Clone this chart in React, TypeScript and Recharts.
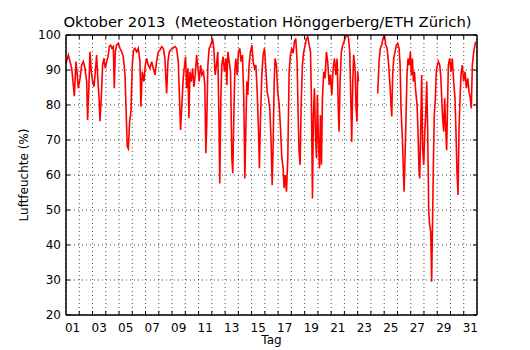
import React from "react";
import { LineChart, Line, XAxis, YAxis, CartesianGrid, Label } from "recharts";

// Time in days since 1 Oct 2013 00:00
const days: number[] = [
  0, 0.18, 0.43, 0.55, 0.63, 0.75, 0.85, 0.93, 1.06, 1.18, 1.31, 1.43, 1.56, 1.63, 1.73, 1.81, 1.91,
  2.01, 2.11, 2.19, 2.31, 2.41, 2.51, 2.56, 2.66, 2.76, 2.86, 2.96, 3.07, 3.17, 3.27, 3.37, 3.47, 3.57,
  3.64, 3.72, 3.82, 3.94, 4.07, 4.2, 4.32, 4.45, 4.52, 4.62, 4.7, 4.8, 4.9, 5.0, 5.1, 5.2, 5.33, 5.45,
  5.58, 5.65, 5.75, 5.88, 5.98, 6.08, 6.21, 6.33, 6.46, 6.58, 6.71, 6.83, 6.96, 7.09, 7.21, 7.34, 7.46,
  7.59, 7.69, 7.79, 7.89, 8.04, 8.22, 8.34, 8.47, 8.57, 8.64, 8.74, 8.84, 8.94, 9.02, 9.1, 9.2, 9.27,
  9.35, 9.45, 9.55, 9.65, 9.75, 9.85, 9.95, 10.05, 10.15, 10.25,
  10.37, 10.47, 10.55, 10.62, 10.7, 10.8, 10.92, 11.05, 11.15, 11.25, 11.35, 11.45, 11.53, 11.6, 11.68,
  11.75, 11.85, 11.95, 12.06, 12.13, 12.21, 12.31, 12.41, 12.51, 12.58, 12.66, 12.73, 12.81, 12.91,
  13.01, 13.11, 13.21, 13.31, 13.41, 13.49, 13.56, 13.64, 13.71, 13.81, 13.91, 14.02, 14.12, 14.22,
  14.32, 14.42, 14.52, 14.59, 14.67, 14.77, 14.87, 14.97, 15.07, 15.17, 15.27, 15.37, 15.47, 15.55,
  15.62, 15.7, 15.77, 15.87, 15.97, 16.08, 16.18, 16.28, 16.38, 16.45, 16.53, 16.63, 16.73, 16.83,
  16.93, 17.03, 17.13, 17.23, 17.33, 17.43, 17.51, 17.58, 17.66, 17.73, 17.83, 17.93, 18.04, 18.14,
  18.24, 18.34, 18.44, 18.51, 18.59, 18.66, 18.74, 18.81, 18.89, 18.96, 19.04, 19.12, 19.19, 19.27,
  19.34, 19.44, 19.54, 19.64, 19.74, 19.85, 19.94, 20.05, 20.15, 20.25, 20.35, 20.45, 20.55, 20.6,
  20.67, 20.77, 20.87, 20.97,
  21.05, 21.18, 21.3, 21.4, 21.48, 21.55, 21.63, 21.7, 21.8, 21.88, 21.95, 22.0, 22.06, 22.8,
  23.51, 23.61, 23.71, 23.81, 23.91, 24.02, 24.12, 24.22, 24.32, 24.42, 24.49, 24.57, 24.64, 24.72,
  24.82, 24.92, 25.02, 25.12, 25.2, 25.27, 25.37, 25.45, 25.5, 25.57, 25.65, 25.72, 25.8, 25.9, 25.97,
  26.05, 26.13, 26.2, 26.28, 26.38, 26.48, 26.55, 26.63, 26.68, 26.75, 26.83, 26.9, 26.98, 27.06,
  27.13, 27.21, 27.28, 27.36, 27.43, 27.51, 27.58, 27.63, 27.71, 27.78, 27.86, 27.93, 28.01, 28.09,
  28.19, 28.26, 28.34, 28.41, 28.49, 28.56, 28.64, 28.71, 28.79, 28.84, 28.94, 29.04, 29.14, 29.24,
  29.34, 29.42, 29.49, 29.57, 29.64, 29.72, 29.79, 29.89, 29.99, 30.1, 30.2, 30.3, 30.4, 30.5, 30.57,
  30.65, 30.75, 30.85, 30.9,
];

// Relative humidity in % (null = missing data)
const humidity: (number | null)[] = [
  92, 94.3, 90.5, 85.7, 82.5, 92.4, 88.6, 84.8, 87.6, 91.4, 92.4, 90.5, 86.7, 75.7, 85.7, 95.2, 89.5,
  86.7, 85.2, 88.6, 94.3, 86.7, 81, 75.4, 81.9, 91.4, 93.3, 90.5, 92.4, 93.8, 96.7, 97.1, 96.2, 96.7,
  84.8, 95.2, 97.1, 97.6, 96.2, 95.2, 93.8, 88.6, 80, 68.1, 67.5, 75.2, 78.1, 91.4, 95.7, 96.2, 95.2, 96.2,
  92.4, 79.5, 89.5, 86.7, 91.4, 93.3, 91.4, 90.5, 92.4, 90.5, 88.6, 92.4, 95.2, 95.7, 96.7, 96.2, 93.3,
  83.3, 92.4, 95.2, 95.7, 96.2, 96.7, 96.2, 92.4, 81, 72.9, 80, 87.6, 91.4, 93.8, 84.8, 90.5, 76.2,
  89.5, 86.7, 90.5, 85.2, 88.6, 94.3, 90.5, 86.7, 91.4, 88.6,
  89.5, 85.7, 66.2, 75.2, 91.4, 96.2, 97.1, 99, 96.2, 88.6, 91.4, 95.2, 77.1, 57.6, 81.9,
  91.4, 93.8, 89.5, 93.3, 85.7, 95.2, 92.4, 89.5, 64.8, 60.5, 77.1, 89.5, 93.3, 88.6,
  95.2, 96.2, 92.4, 94.3, 81.9, 59, 72.4, 86.7, 82.9, 91.4, 95.2, 97.1, 92.4, 90.5,
  91.4, 83.8, 72.4, 61.9, 76.2, 88.6, 94.3, 96.2, 90.5, 83.8, 81.9, 79, 69.5, 57.1,
  67.6, 86.7, 93.3, 91.4, 83.8, 80, 73.3, 64.8, 61.9, 56.2, 60, 55.2, 64.8, 89.5,
  94.3, 96.2, 94.8, 98.1, 99, 92.4, 77.1, 66.7, 62.9, 79, 91.4, 95.2, 97.1, 99,
  99.5, 97.1, 95.2, 81.9, 53.3, 77.1, 84.8, 72.4, 64.8, 82.9, 69.5, 61.9, 77.1, 62.9,
  81.9, 89.5, 87.6, 95.2, 92.4, 85.7, 88.6, 82.9, 90.5, 93.3, 88.6, 93.3, 77.1, 72.4,
  86.7, 95.2, 97.1, 98.1,
  99, 100, 99.5, 95.2, 81.9, 69.5, 86.7, 94.3, 90.5, 79, 75.2, 89.5, 86.7, null,
  83.3, 92.4, 96.2, 97.1, 99, 100, 97.1, 96.2, 92.4, 86.7, 81.9, 76.7, 88.6, 93.3,
  95.2, 97.1, 97.6, 96.2, 91.4, 79, 70.5, 61, 55.2, 64.8, 77.1, 88.6, 93.3, 91.4, 95.2,
  88.6, 93.3, 86.7, 89.5, 83.8, 80, 72.4, 61, 59, 72.4, 88.6, 67.6, 62.9, 72.4,
  77.1, 86.7, 72.4, 49.5, 45.7, 43.8, 29.5, 41.9, 62.9, 77.1, 81.9, 89.5, 91.4, 92.4,
  91.4, 88.6, 81.9, 76.2, 72.4, 81.9, 73.3, 67.1, 81.9, 91.4, 93.3, 89.5, 93.3, 86.7,
  81.9, 71.4, 61, 54.3, 72.4, 81.9, 88.6, 91.4, 86.7, 89.5, 84.8, 87.6, 83.8, 81.9, 79,
  91.4, 95.2, 97.1, 98.1,
];

const dayLabels: string[] = [
  "01", "03", "05", "07", "09", "11", "13", "15", "17", "19", "21", "23", "25", "27", "29", "31",
];
const dayBoundaries: number[] = Array.from({ length: 30 }, (_, i) => i + 1);
const yTicks: number[] = [20, 30, 40, 50, 60, 70, 80, 90, 100];

const data = days.map((d, i) => ({ day: d, rh: humidity[i] }));
const labelPositions = dayLabels.map((_, i) => i * 2 + 0.5);

const FONT = "'DejaVu Sans', sans-serif";
const tickStyle = { fontSize: 12, fill: "#000", fontFamily: FONT };
const NoLabel = () => <g />;

export default function App() {
  return (
    <div style={{ position: "absolute", left: 0, top: 0, width: 530, height: 350, background: "#fff" }}>
      <div
        style={{
          position: "absolute",
          left: 62,
          width: 411,
          top: 13,
          textAlign: "center",
          fontFamily: FONT,
          fontSize: 14.8,
          lineHeight: "18px",
          color: "#000",
          whiteSpace: "pre",
        }}
      >
        {"Oktober 2013  (Meteostation Hönggerberg/ETH Zürich)"}
      </div>
      <LineChart
        width={530}
        height={350}
        data={data}
        margin={{ top: 35, right: 53, bottom: 0, left: 0 }}
        style={{ position: "absolute", left: 0, top: 0 }}
      >
        <CartesianGrid
          xAxisId={0}
          yAxisId={0}
          stroke="#000"
          strokeWidth={0.7}
          strokeDasharray="1 3"
        />
        <Line
          xAxisId={0}
          yAxisId={0}
          type="linear"
          dataKey="rh"
          stroke="#ff0000"
          strokeWidth={1.6}
          dot={false}
          activeDot={false}
          isAnimationActive={false}
        />
        {/* main x axis: day boundaries with inward ticks */}
        <XAxis
          xAxisId={0}
          type="number"
          dataKey="day"
          domain={[0, 31]}
          ticks={dayBoundaries}
          interval={0}
          allowDataOverflow
          mirror
          height={6}
          tick={NoLabel}
          tickSize={4}
          tickLine={{ stroke: "#000", strokeWidth: 1 }}
          axisLine={{ stroke: "#000", strokeWidth: 1.5 }}
        />
        {/* label axis: day labels at noon */}
        <XAxis
          xAxisId="lab"
          type="number"
          dataKey="day"
          domain={[0, 31]}
          ticks={labelPositions}
          interval={0}
          allowDataOverflow
          height={35}
          tickLine={false}
          axisLine={false}
          tickSize={6}
          tickMargin={2}
          tick={tickStyle}
          tickFormatter={(v: number) => dayLabels[Math.round((v - 0.5) / 2)]}
        >
          <Label value="Tag" position="insideBottom" offset={6} style={{ fontSize: 12, fill: "#000", fontFamily: FONT }} />
        </XAxis>
        {/* top frame */}
        <XAxis
          xAxisId="top"
          orientation="top"
          type="number"
          dataKey="day"
          domain={[0, 31]}
          ticks={dayBoundaries}
          interval={0}
          allowDataOverflow
          mirror
          height={6}
          tick={NoLabel}
          tickSize={4}
          tickLine={{ stroke: "#000", strokeWidth: 1 }}
          axisLine={{ stroke: "#000", strokeWidth: 1.5 }}
        />
        {/* left y axis with labels */}
        <YAxis
          yAxisId={0}
          domain={[20, 100]}
          ticks={yTicks}
          interval={0}
          allowDataOverflow
          width={66}
          tickLine={false}
          tickSize={0}
          tickMargin={5}
          tick={tickStyle}
          axisLine={{ stroke: "#000", strokeWidth: 1.5 }}
        >
          <Label
            value="Luftfeuchte (%)"
            angle={-90}
            position="insideLeft"
            offset={24}
            style={{ textAnchor: "middle", fontSize: 12, fill: "#000", fontFamily: FONT }}
          />
        </YAxis>
        {/* left inward ticks */}
        <YAxis
          yAxisId="lt"
          domain={[20, 100]}
          ticks={yTicks}
          interval={0}
          allowDataOverflow
          mirror
          width={6}
          tick={NoLabel}
          tickSize={4}
          tickLine={{ stroke: "#000", strokeWidth: 1 }}
          axisLine={false}
        />
        {/* right frame */}
        <YAxis
          yAxisId="rt"
          orientation="right"
          domain={[20, 100]}
          ticks={yTicks}
          interval={0}
          allowDataOverflow
          mirror
          width={6}
          tick={NoLabel}
          tickSize={4}
          tickLine={{ stroke: "#000", strokeWidth: 1 }}
          axisLine={{ stroke: "#000", strokeWidth: 1.5 }}
        />
      </LineChart>
    </div>
  );
}
